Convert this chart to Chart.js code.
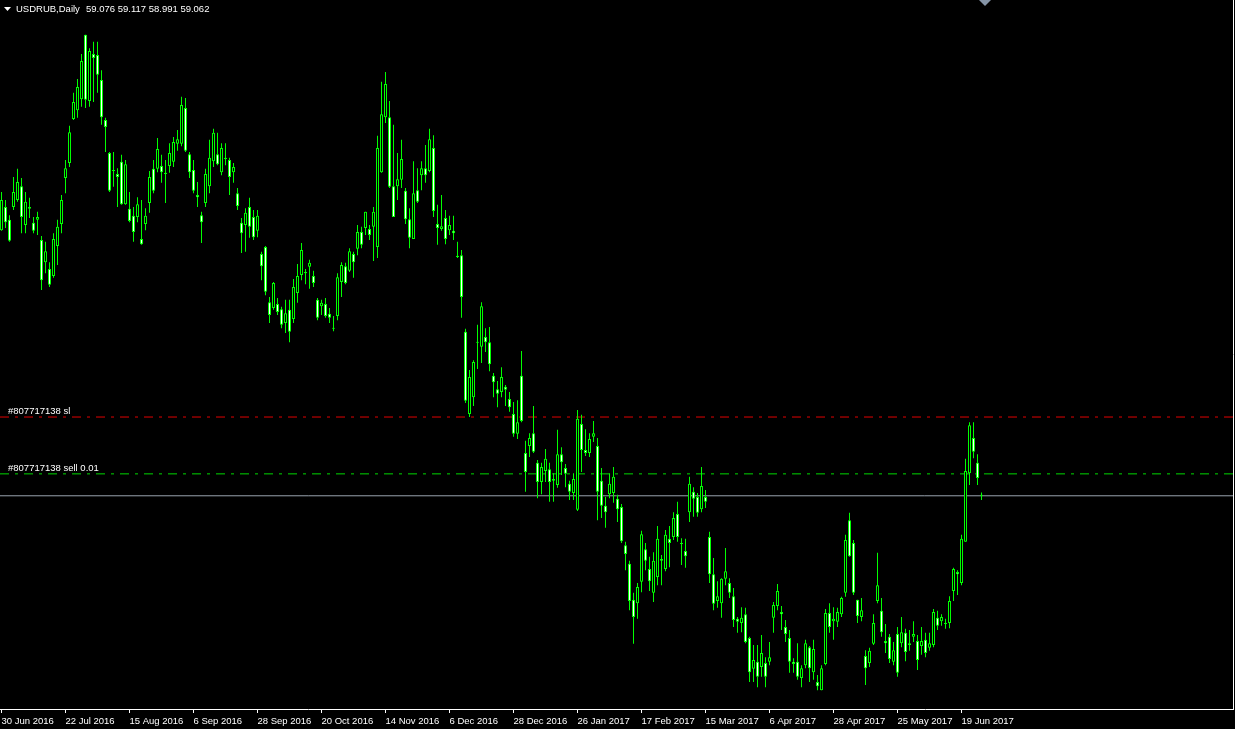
<!DOCTYPE html>
<html>
<head>
<meta charset="utf-8">
<title>USDRUB,Daily</title>
<script src="https://cdn.jsdelivr.net/npm/chart.js@4.4.1/dist/chart.umd.min.js"></script>
<style>
  html, body { margin: 0; padding: 0; background: #000; }
  canvas { display: block; }
</style>
</head>
<body>
<canvas id="chart" width="1235" height="729"></canvas>
<script>
// USDRUB daily candles, 30 Jun 2016 .. 26 Jun 2017
const symbolTitle = 'USDRUB,Daily';
const lastQuote = '59.076 59.117 58.991 59.062';

const opens = [
  63.64, 64.04, 63.82, 64.04, 64.16, 64.40, 63.73, 64.04, 63.77, 63.82,
  63.47, 63.09, 62.97, 62.85, 63.37, 63.75, 64.54, 64.80, 65.56, 65.71,
  65.90, 67.01, 65.87, 66.68, 66.66, 66.23, 65.54, 64.97, 64.66, 64.61,
  64.82, 64.09, 64.01, 63.89, 63.87, 63.49, 63.75, 64.11, 64.70, 64.70,
  64.75, 64.63, 64.75, 64.82, 65.13, 65.13, 65.75, 64.95, 64.68, 64.25,
  63.90, 64.11, 64.40, 64.83, 64.95, 64.64, 64.89, 64.85, 64.64, 64.28,
  63.77, 63.73, 64.04, 63.87, 63.63, 63.23, 63.35, 62.40, 62.30, 62.37,
  62.28, 62.04, 62.27, 62.11, 62.56, 62.87, 62.92, 63.01, 62.85, 62.44,
  62.33, 62.37, 62.20, 61.95, 62.16, 62.75, 63.02, 62.94, 63.23, 63.32,
  63.61, 63.68, 63.66, 63.70, 63.35, 64.64, 65.59, 65.59, 64.40, 64.40,
  64.51, 64.32, 63.83, 63.49, 64.33, 64.59, 64.71, 64.66, 65.06, 63.75,
  63.66, 63.85, 63.64, 63.63, 63.20, 63.21, 61.89, 60.47, 60.76, 61.70,
  61.63, 61.80, 61.71, 61.13, 60.90, 60.85, 60.94, 60.73, 60.47, 60.13,
  61.13, 59.80, 59.92, 60.14, 59.63, 59.30, 59.49, 59.52, 59.35, 59.25,
  59.78, 59.54, 59.27, 59.11, 58.82, 60.30, 59.85, 59.80, 60.08, 59.92,
  59.32, 58.89, 59.09, 59.11, 59.01, 58.87, 58.21, 57.89, 57.27, 57.21,
  57.58, 58.14, 57.80, 57.39, 57.66, 57.97, 57.80, 58.32, 58.35, 58.75,
  58.25, 58.11, 58.78, 59.13, 59.04, 58.83, 59.04, 58.35, 57.71, 57.25,
  57.21, 57.63, 57.56, 57.33, 56.94, 56.87, 57.02, 56.61, 56.08, 56.20,
  56.11, 56.18, 56.20, 56.96, 57.16, 57.06, 56.80, 56.61, 56.20, 56.20,
  55.92, 56.14, 56.45, 56.02, 55.85, 55.71, 56.16, 57.04, 56.90, 56.89,
  57.02, 57.39, 58.64, 58.25, 57.27, 56.97, 56.30, 56.18, 56.51, 57.25,
  57.08, 56.56, 56.63, 56.20, 56.68, 56.52, 56.70, 56.49, 56.63, 56.56,
  56.47, 56.58, 56.44, 56.49, 56.96, 56.90, 56.87, 56.87, 57.42, 57.75,
  57.56, 58.27, 59.45, 60.06, 59.63, 59.076
];
const highs = [
  64.30, 64.16, 63.90, 64.56, 64.70, 64.54, 64.30, 64.20, 63.87, 63.96,
  63.54, 63.44, 63.09, 63.59, 63.82, 64.25, 64.85, 65.44, 66.01, 66.25,
  66.68, 67.01, 66.78, 66.89, 66.89, 66.40, 65.58, 64.99, 64.99, 64.71,
  64.94, 64.85, 64.30, 64.04, 64.21, 64.16, 64.02, 64.66, 64.85, 65.23,
  64.94, 64.85, 65.14, 65.25, 65.37, 65.94, 65.92, 64.99, 64.85, 64.47,
  63.96, 64.70, 65.20, 65.39, 65.32, 65.14, 65.14, 64.89, 64.80, 64.37,
  63.85, 64.02, 64.20, 63.99, 63.99, 63.27, 63.37, 62.49, 62.75, 62.47,
  62.32, 62.44, 62.44, 62.80, 63.06, 63.42, 62.97, 63.13, 62.94, 62.47,
  62.44, 62.47, 62.30, 62.16, 62.90, 63.09, 63.08, 63.33, 63.27, 63.73,
  63.70, 63.96, 63.73, 64.04, 65.27, 66.20, 66.37, 65.87, 65.46, 64.97,
  65.20, 64.37, 64.02, 64.83, 64.71, 64.83, 65.11, 65.39, 65.28, 64.08,
  64.25, 63.99, 63.89, 63.89, 63.44, 63.30, 61.94, 61.23, 61.40, 62.01,
  62.40, 61.95, 61.97, 61.18, 61.04, 61.28, 60.97, 60.85, 60.68, 60.71,
  61.56, 60.01, 60.14, 60.61, 59.68, 59.63, 59.87, 59.63, 59.45, 60.20,
  59.90, 59.61, 59.32, 59.45, 60.54, 60.46, 60.21, 60.14, 60.35, 60.06,
  59.54, 59.04, 59.45, 59.56, 59.08, 58.92, 58.27, 57.94, 57.39, 57.56,
  58.46, 58.25, 58.01, 58.09, 58.54, 58.04, 58.47, 58.54, 58.78, 58.96,
  58.33, 58.32, 59.39, 59.21, 59.11, 59.56, 59.16, 58.44, 57.99, 57.59,
  57.64, 58.16, 57.64, 57.47, 56.97, 57.14, 57.13, 56.63, 56.49, 56.49,
  56.66, 56.28, 56.54, 57.23, 57.54, 57.16, 56.92, 56.75, 56.26, 56.52,
  56.14, 56.58, 56.47, 56.58, 55.97, 56.14, 57.11, 57.21, 57.14, 57.13,
  57.32, 58.39, 58.77, 58.30, 57.27, 57.30, 56.40, 56.44, 57.02, 58.08,
  57.30, 56.85, 56.68, 56.54, 56.80, 56.97, 56.77, 56.75, 56.90, 56.66,
  56.80, 56.70, 56.70, 57.11, 57.08, 57.02, 56.94, 57.33, 57.82, 57.78,
  58.39, 59.70, 60.33, 60.33, 59.78, 59.117
];
const lows = [
  63.63, 63.68, 63.44, 63.99, 64.13, 63.59, 63.59, 63.85, 63.59, 63.56,
  62.61, 62.90, 62.66, 62.82, 63.04, 63.59, 64.28, 64.73, 65.54, 65.58,
  65.77, 65.75, 65.77, 65.85, 66.01, 65.46, 64.99, 64.30, 64.39, 64.04,
  64.08, 64.08, 63.78, 63.44, 63.78, 63.39, 63.64, 63.94, 64.28, 64.64,
  64.46, 64.11, 64.63, 64.73, 65.01, 65.09, 64.99, 64.54, 64.28, 64.04,
  63.42, 64.04, 64.28, 64.73, 64.76, 64.59, 64.76, 64.25, 64.46, 63.99,
  63.25, 63.27, 63.51, 63.47, 63.52, 62.78, 62.52, 62.04, 62.27, 62.18,
  61.95, 61.87, 61.71, 62.04, 62.39, 62.78, 62.71, 62.63, 62.66, 62.09,
  62.18, 62.13, 62.04, 61.90, 62.09, 62.49, 62.71, 62.92, 62.82, 63.21,
  63.33, 63.56, 63.47, 63.11, 63.16, 64.63, 65.49, 64.37, 63.87, 64.16,
  64.37, 63.75, 63.33, 63.49, 64.11, 64.33, 64.46, 64.64, 63.87, 63.39,
  63.63, 63.40, 63.56, 63.47, 63.16, 62.13, 60.66, 60.42, 60.61, 61.25,
  61.35, 61.54, 61.21, 60.76, 60.59, 60.76, 60.61, 60.51, 60.08, 60.04,
  60.33, 59.13, 59.73, 59.80, 59.02, 59.09, 59.30, 58.96, 58.96, 59.20,
  59.42, 59.21, 58.99, 58.99, 58.80, 59.47, 59.75, 59.73, 59.99, 58.64,
  58.68, 58.51, 59.02, 58.94, 58.61, 58.25, 57.78, 57.09, 56.51, 56.94,
  57.40, 57.78, 57.42, 57.23, 57.52, 57.52, 57.76, 57.83, 58.30, 58.27,
  57.87, 57.82, 58.61, 58.70, 58.70, 58.78, 58.85, 57.56, 57.09, 57.13,
  56.96, 57.52, 57.30, 56.80, 56.70, 56.71, 56.52, 55.85, 55.85, 55.76,
  55.94, 55.76, 56.14, 56.70, 57.09, 56.75, 56.54, 56.01, 56.01, 55.89,
  55.76, 56.09, 55.85, 55.89, 55.71, 55.71, 56.14, 56.70, 56.58, 56.80,
  56.97, 57.32, 58.01, 57.35, 56.87, 56.90, 55.80, 56.11, 56.49, 57.21,
  56.63, 56.35, 56.18, 56.14, 55.94, 56.45, 56.21, 56.39, 56.54, 56.06,
  56.32, 56.28, 56.39, 56.45, 56.75, 56.82, 56.77, 56.78, 57.25, 57.35,
  57.52, 58.27, 59.25, 59.71, 59.25, 58.991
];
const closes = [
  64.16, 63.78, 63.46, 64.30, 64.47, 63.87, 64.13, 64.01, 63.63, 63.87,
  62.78, 63.28, 62.70, 63.49, 63.70, 64.16, 64.71, 65.33, 65.85, 66.11,
  66.56, 65.89, 66.73, 66.61, 66.32, 65.59, 65.42, 64.32, 64.68, 64.56,
  64.09, 64.78, 63.80, 63.61, 64.09, 63.40, 63.89, 64.56, 64.32, 65.04,
  64.64, 64.61, 64.97, 65.16, 65.21, 65.80, 65.01, 64.64, 64.32, 64.21,
  63.78, 64.61, 64.89, 65.32, 64.78, 65.06, 64.87, 64.56, 64.73, 64.06,
  63.59, 63.94, 63.70, 63.52, 63.89, 63.02, 62.58, 62.18, 62.73, 62.23,
  62.01, 62.21, 61.89, 62.66, 62.85, 63.30, 62.90, 63.08, 62.73, 62.13,
  62.39, 62.16, 62.13, 61.94, 62.83, 63.04, 62.73, 63.28, 63.09, 63.61,
  63.39, 63.96, 63.56, 63.96, 65.06, 65.64, 66.16, 64.39, 63.87, 64.52,
  64.87, 63.83, 63.51, 64.28, 64.13, 64.71, 64.59, 65.21, 63.97, 63.68,
  63.71, 63.49, 63.73, 63.59, 63.18, 62.49, 60.70, 61.11, 61.37, 61.71,
  62.33, 61.71, 61.33, 61.02, 60.82, 61.11, 60.89, 60.59, 60.13, 60.33,
  60.35, 59.47, 60.06, 59.82, 59.30, 59.56, 59.70, 59.30, 59.32, 59.78,
  59.64, 59.44, 59.13, 59.35, 60.39, 59.85, 59.80, 60.04, 60.14, 59.13,
  58.89, 58.78, 59.27, 59.39, 58.83, 58.28, 58.06, 57.25, 56.97, 57.49,
  58.40, 57.94, 57.59, 57.94, 58.32, 57.94, 58.39, 58.25, 58.68, 58.35,
  58.23, 58.02, 59.27, 59.01, 58.77, 59.23, 58.96, 57.71, 57.20, 57.33,
  57.63, 57.76, 57.39, 56.92, 56.89, 56.96, 56.54, 56.02, 56.23, 55.94,
  56.35, 55.94, 56.28, 57.18, 57.42, 57.02, 56.68, 56.20, 56.16, 55.94,
  56.09, 56.52, 56.09, 56.42, 55.78, 56.09, 57.04, 56.80, 56.94, 57.06,
  57.30, 58.30, 58.02, 57.39, 56.99, 57.09, 56.09, 56.39, 56.87, 57.52,
  56.71, 56.52, 56.25, 56.40, 56.01, 56.71, 56.37, 56.52, 56.68, 56.23,
  56.56, 56.35, 56.52, 57.06, 56.82, 56.97, 56.85, 57.25, 57.80, 57.71,
  58.32, 59.49, 60.28, 59.82, 59.37, 59.062
];

// time scale labels, one every 16 bars
const tickIndex = [0, 16, 32, 48, 64, 80, 96, 112, 128, 144, 160, 176, 192, 208, 224, 240];
const tickLabels = [
  '30 Jun 2016', '22 Jul 2016', '15 Aug 2016', '6 Sep 2016', '28 Sep 2016', '20 Oct 2016',
  '14 Nov 2016', '6 Dec 2016', '28 Dec 2016', '26 Jan 2017', '17 Feb 2017', '15 Mar 2017',
  '6 Apr 2017', '28 Apr 2017', '25 May 2017', '19 Jun 2017'
];

// open order + stop loss, current bid
const orderTicket = '#807717138';
const orderLots = '0.01';
const orderOpen = 59.44;
const orderSl = 60.42;
const bidPrice = 59.062;

const CANDLE = '#00ff00';
const FONT = "'Liberation Sans', Arial, sans-serif";
const X_MIN = -0.375;            // 4 px per bar across the 1233 px plot
const X_MAX = X_MIN + 1233 / 4;
const Y_MAX = 67.61;             // 58 px per rouble, price axis hidden
const Y_MIN = Y_MAX - 709 / 58;

const bodyData = opens.map((o, i) => ({ x: i, y: [o, closes[i]] }));
const wickData = lows.map((l, i) => ({ x: i, y: [l, highs[i]] }));
// green-on-black scheme: bear body white, bull body black
const bodyFill = opens.map((o, i) => closes[i] < o ? '#ffffff' : '#000000');

const hLine = (v, color, dash, order) => ({
  type: 'line',
  data: [{ x: X_MIN, y: v }, { x: X_MAX, y: v }],
  borderColor: color,
  borderWidth: 1,
  borderDash: dash,
  pointRadius: 0,
  order
});

const decor = {
  id: 'decor',
  afterDraw(chart) {
    const { ctx, chartArea: a, scales: { y } } = chart;
    ctx.save();

    // frame on the right
    ctx.strokeStyle = '#ffffff';
    ctx.lineWidth = 1;
    ctx.beginPath();
    ctx.moveTo(a.right + 0.5, 0);
    ctx.lineTo(a.right + 0.5, a.bottom + 0.5);
    ctx.stroke();

    // order labels sit just above their lines
    ctx.font = '9.5px ' + FONT;
    ctx.fillStyle = '#ffffff';
    ctx.textBaseline = 'alphabetic';
    ctx.fillText(orderTicket + ' sl', 8, Math.round(y.getPixelForValue(orderSl)) - 3);
    ctx.fillText(orderTicket + ' sell ' + orderLots, 8, Math.round(y.getPixelForValue(orderOpen)) - 3);

    // title with the little menu triangle
    ctx.beginPath();
    ctx.moveTo(4, 7);
    ctx.lineTo(11, 7);
    ctx.lineTo(7.5, 11);
    ctx.closePath();
    ctx.fill();
    ctx.font = '9.5px ' + FONT;
    ctx.fillText(symbolTitle, 16, 12);
    ctx.fillText(lastQuote, 86, 12);

    // chart shift marker
    ctx.fillStyle = '#8594a6';
    ctx.beginPath();
    ctx.moveTo(979, 0);
    ctx.lineTo(991, 0);
    ctx.lineTo(985, 6);
    ctx.closePath();
    ctx.fill();
    ctx.restore();
  }
};

new Chart(document.getElementById('chart'), {
  type: 'bar',
  data: {
    datasets: [
      {
        label: 'body',
        data: bodyData,
        backgroundColor: bodyFill,
        borderColor: CANDLE,
        borderWidth: 1,
        borderSkipped: false,
        barThickness: 3,
        minBarLength: 1,
        inflateAmount: 0,
        grouped: false,
        order: 0
      },
      {
        label: 'wick',
        data: wickData,
        backgroundColor: CANDLE,
        borderWidth: 0,
        barThickness: 1,
        inflateAmount: 0,
        grouped: false,
        order: 1
      },
      hLine(orderSl, '#e00000', [9, 6, 3, 6], 2),
      hLine(orderOpen, '#00d800', [9, 6, 3, 6], 2),
      hLine(bidPrice, '#9aa4ae', [], 3)
    ]
  },
  options: {
    responsive: false,
    devicePixelRatio: 1,
    animation: false,
    events: [],
    layout: { padding: { left: 0, right: 2, top: 0, bottom: 0 } },
    plugins: { legend: { display: false }, tooltip: { enabled: false } },
    scales: {
      x: {
        type: 'linear',
        offset: false,
        min: X_MIN,
        max: X_MAX,
        afterBuildTicks: s => { s.ticks = tickIndex.map(v => ({ value: v })); },
        // labels hang to the right of their tick, no side padding needed
        afterFit: s => { s.paddingLeft = 0; s.paddingRight = 0; },
        ticks: {
          autoSkip: false,
          maxRotation: 0,
          align: 'start',
          padding: 1,
          color: '#ffffff',
          font: { family: FONT, size: 9.5, lineHeight: '14px' },
          callback: v => tickLabels[tickIndex.indexOf(v)]
        },
        grid: { offset: false, drawOnChartArea: false, drawTicks: true, tickLength: 4, tickColor: '#ffffff' },
        border: { display: true, color: '#ffffff', width: 1 }
      },
      y: { display: false, min: Y_MIN, max: Y_MAX }
    }
  },
  plugins: [decor]
});
</script>
</body>
</html>
